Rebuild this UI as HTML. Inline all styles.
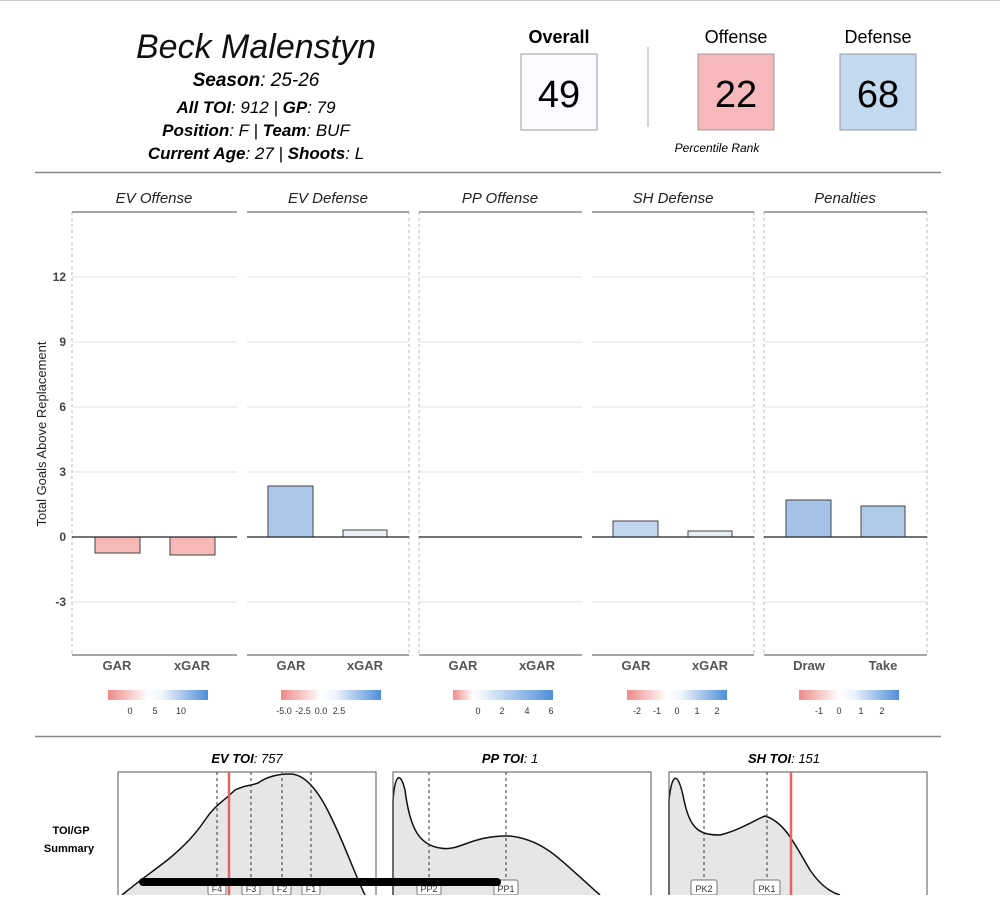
<!DOCTYPE html><html><head><meta charset="utf-8"><style>
body{margin:0;background:#fff;font-family:"Liberation Sans",sans-serif}
</style></head><body>
<svg width="1000" height="895" xmlns="http://www.w3.org/2000/svg" font-family="Liberation Sans, sans-serif">
<line x1="0" y1="0.5" x2="1000" y2="0.5" stroke="#ccc"/>
<text x="256" y="58" font-size="34" font-style="italic" text-anchor="middle" fill="#111">Beck Malenstyn</text>
<text x="256" y="86" font-size="19" text-anchor="middle" font-style="italic"><tspan font-weight="bold">Season</tspan>: 25-26</text>
<text x="256" y="113" font-size="17" text-anchor="middle" font-style="italic"><tspan font-weight="bold">All TOI</tspan>: 912 | <tspan font-weight="bold">GP</tspan>: 79</text>
<text x="256" y="136" font-size="17" text-anchor="middle" font-style="italic"><tspan font-weight="bold">Position</tspan>: F | <tspan font-weight="bold">Team</tspan>: BUF</text>
<text x="256" y="159" font-size="17" text-anchor="middle" font-style="italic"><tspan font-weight="bold">Current Age</tspan>: 27 | <tspan font-weight="bold">Shoots</tspan>: L</text>
<text x="559" y="43" font-size="18" font-weight="bold" text-anchor="middle">Overall</text>
<text x="736" y="43" font-size="18" text-anchor="middle">Offense</text>
<text x="878" y="43" font-size="18" text-anchor="middle">Defense</text>
<rect x="521" y="54" width="76" height="76" fill="#fafbff" stroke="#999"/>
<rect x="698" y="54" width="76" height="76" fill="#f6b8bb" stroke="#999"/>
<rect x="840" y="54" width="76" height="76" fill="#c3d9f0" stroke="#999"/>
<text x="559" y="107" font-size="38" text-anchor="middle">49</text>
<text x="736" y="107" font-size="38" text-anchor="middle">22</text>
<text x="878" y="107" font-size="38" text-anchor="middle">68</text>
<line x1="648" y1="47" x2="648" y2="127" stroke="#aaa"/>
<text x="717" y="152" font-size="12" font-style="italic" text-anchor="middle">Percentile Rank</text>
<line x1="35" y1="172.5" x2="941" y2="172.5" stroke="#888" stroke-width="1.5"/>
<g stroke="#e2e2e2" stroke-width="1">
<line x1="72" y1="277" x2="927" y2="277"/><line x1="72" y1="342" x2="927" y2="342"/><line x1="72" y1="407" x2="927" y2="407"/><line x1="72" y1="472" x2="927" y2="472"/><line x1="72" y1="602" x2="927" y2="602"/>
</g>
<g fill="#fff"><rect x="237" y="212" width="10" height="445"/><rect x="409" y="212" width="10" height="445"/><rect x="582" y="212" width="10" height="445"/><rect x="754" y="212" width="10" height="445"/></g>
<g stroke="#bbb" stroke-dasharray="3,3"><line x1="72" y1="212" x2="72" y2="655"/><line x1="409" y1="212" x2="409" y2="655"/><line x1="419" y1="212" x2="419" y2="655"/><line x1="754" y1="212" x2="754" y2="655"/><line x1="764" y1="212" x2="764" y2="655"/><line x1="927" y1="212" x2="927" y2="655"/></g>
<g stroke="#888" stroke-width="1.5">
<line x1="72" y1="212" x2="237" y2="212"/><line x1="247" y1="212" x2="409" y2="212"/><line x1="419" y1="212" x2="582" y2="212"/><line x1="592" y1="212" x2="754" y2="212"/><line x1="764" y1="212" x2="927" y2="212"/>
<line x1="72" y1="655" x2="237" y2="655"/><line x1="247" y1="655" x2="409" y2="655"/><line x1="419" y1="655" x2="582" y2="655"/><line x1="592" y1="655" x2="754" y2="655"/><line x1="764" y1="655" x2="927" y2="655"/>
</g>
<g font-size="15" font-style="italic" text-anchor="middle" fill="#222">
<text x="154" y="203">EV Offense</text><text x="328" y="203">EV Defense</text><text x="500" y="203">PP Offense</text><text x="673" y="203">SH Defense</text><text x="845" y="203">Penalties</text></g>
<g font-size="12" font-weight="bold" fill="#444" text-anchor="end">
<text x="66" y="281">12</text><text x="66" y="346">9</text><text x="66" y="411">6</text><text x="66" y="476">3</text><text x="66" y="541">0</text><text x="66" y="606">-3</text></g>
<text transform="translate(46,434) rotate(-90)" font-size="13" text-anchor="middle" fill="#222">Total Goals Above Replacement</text>
<g stroke="#444" stroke-width="1">
<rect x="95" y="537" width="45" height="16" fill="#f7b8b8"/>
<rect x="170" y="537" width="45" height="18" fill="#f7b8b8"/>
<rect x="268" y="486" width="45" height="51" fill="#adc9ea"/>
<rect x="343" y="530" width="44" height="7" fill="#eef2f8"/>
<rect x="613" y="521" width="45" height="16" fill="#c3d8f0"/>
<rect x="688" y="531" width="44" height="6" fill="#e6edf7"/>
<rect x="786" y="500" width="45" height="37" fill="#a5c3e8"/>
<rect x="861" y="506" width="44" height="31" fill="#afcae9"/>
</g>
<g stroke="#222" stroke-width="1.3">
<line x1="72" y1="537" x2="237" y2="537"/><line x1="247" y1="537" x2="409" y2="537"/><line x1="419" y1="537" x2="582" y2="537"/><line x1="592" y1="537" x2="754" y2="537"/><line x1="764" y1="537" x2="927" y2="537"/></g>
<g font-size="13" font-weight="bold" fill="#555" text-anchor="middle">
<text x="117" y="670">GAR</text><text x="192" y="670">xGAR</text><text x="291" y="670">GAR</text><text x="365" y="670">xGAR</text><text x="463" y="670">GAR</text><text x="537" y="670">xGAR</text><text x="636" y="670">GAR</text><text x="710" y="670">xGAR</text><text x="809" y="670">Draw</text><text x="883" y="670">Take</text></g>
<defs><linearGradient id="g" x1="0" x2="1"><stop offset="0" stop-color="#ee8a8a"/><stop offset="0.4" stop-color="#fff"/><stop offset="0.55" stop-color="#eef3fb"/><stop offset="1" stop-color="#4f8fd8"/></linearGradient>
<linearGradient id="g2" x1="0" x2="1"><stop offset="0" stop-color="#ee8a8a"/><stop offset="0.2" stop-color="#fff"/><stop offset="0.3" stop-color="#eef3fb"/><stop offset="1" stop-color="#4f8fd8"/></linearGradient></defs>
<rect x="108" y="690" width="100" height="10" fill="url(#g)"/>
<rect x="281" y="690" width="100" height="10" fill="url(#g)"/>
<rect x="453" y="690" width="100" height="10" fill="url(#g2)"/>
<rect x="627" y="690" width="100" height="10" fill="url(#g)"/>
<rect x="799" y="690" width="100" height="10" fill="url(#g)"/>
<g font-size="9" fill="#333" text-anchor="middle">
<text x="130" y="714">0</text><text x="155" y="714">5</text><text x="181" y="714">10</text>
<text x="284" y="714">-5.0</text><text x="303" y="714">-2.5</text><text x="321" y="714">0.0</text><text x="339" y="714">2.5</text>
<text x="478" y="714">0</text><text x="502" y="714">2</text><text x="527" y="714">4</text><text x="551" y="714">6</text>
<text x="637" y="714">-2</text><text x="657" y="714">-1</text><text x="677" y="714">0</text><text x="697" y="714">1</text><text x="717" y="714">2</text>
<text x="819" y="714">-1</text><text x="839" y="714">0</text><text x="861" y="714">1</text><text x="882" y="714">2</text></g>
<line x1="35" y1="736.5" x2="941" y2="736.5" stroke="#888" stroke-width="1.5"/>
<g font-size="13" text-anchor="middle" font-style="italic">
<text x="247" y="763"><tspan font-weight="bold">EV TOI</tspan>: 757</text>
<text x="510" y="763"><tspan font-weight="bold">PP TOI</tspan>: 1</text>
<text x="784" y="763"><tspan font-weight="bold">SH TOI</tspan>: 151</text></g>
<text x="71" y="834" font-size="11" font-weight="bold" text-anchor="middle">TOI/GP</text>
<text x="69" y="852" font-size="11" font-weight="bold" text-anchor="middle">Summary</text>
<g fill="#e6e6e6" stroke="#111" stroke-width="1.5">
<path d="M122,895 C140,880 155,870 170,858 C185,845 195,835 205,820 C215,805 225,800 235,790 C245,785 250,786 258,783 C265,778 275,774 290,774 C305,774 318,790 330,815 C345,845 355,875 365,895"/>
<path d="M393,895 L393,800 C395,775 400,770 405,790 C410,830 420,845 440,848 C460,852 470,835 510,836 C545,840 560,860 600,895"/>
<path d="M669,895 L669,800 C672,772 678,770 684,800 C690,830 700,835 720,835 C740,830 755,820 765,816 C785,822 795,845 810,870 C820,885 830,892 840,895"/>
</g>
<g fill="none" stroke="#555" stroke-width="1">
<rect x="118" y="772" width="258" height="130"/><rect x="393" y="772" width="258" height="130"/><rect x="669" y="772" width="258" height="130"/></g>
<g stroke="#333" stroke-dasharray="3,3"><line x1="217" y1="772" x2="217" y2="895"/><line x1="251" y1="772" x2="251" y2="895"/><line x1="282" y1="772" x2="282" y2="895"/><line x1="311" y1="772" x2="311" y2="895"/><line x1="429" y1="772" x2="429" y2="895"/><line x1="506" y1="772" x2="506" y2="895"/><line x1="704" y1="772" x2="704" y2="895"/><line x1="767" y1="772" x2="767" y2="895"/></g>
<g stroke="#e06666" stroke-width="2.5"><line x1="229" y1="772" x2="229" y2="895"/><line x1="791" y1="772" x2="791" y2="895"/></g>
<g font-size="9" text-anchor="middle" fill="#333">
<rect x="208" y="880" width="18" height="15" fill="#fff" stroke="#777" rx="2"/><text x="217" y="892">F4</text>
<rect x="242" y="880" width="18" height="15" fill="#fff" stroke="#777" rx="2"/><text x="251" y="892">F3</text>
<rect x="273" y="880" width="18" height="15" fill="#fff" stroke="#777" rx="2"/><text x="282" y="892">F2</text>
<rect x="302" y="880" width="18" height="15" fill="#fff" stroke="#777" rx="2"/><text x="311" y="892">F1</text>
<rect x="417" y="880" width="24" height="15" fill="#fff" stroke="#777" rx="2"/><text x="429" y="892">PP2</text>
<rect x="494" y="880" width="24" height="15" fill="#fff" stroke="#777" rx="2"/><text x="506" y="892">PP1</text>
<rect x="691" y="880" width="26" height="15" fill="#fff" stroke="#777" rx="2"/><text x="704" y="892">PK2</text>
<rect x="754" y="880" width="26" height="15" fill="#fff" stroke="#777" rx="2"/><text x="767" y="892">PK1</text></g>
<line x1="143" y1="882" x2="497" y2="882" stroke="#000" stroke-width="8" stroke-linecap="round"/>
</svg></body></html>
